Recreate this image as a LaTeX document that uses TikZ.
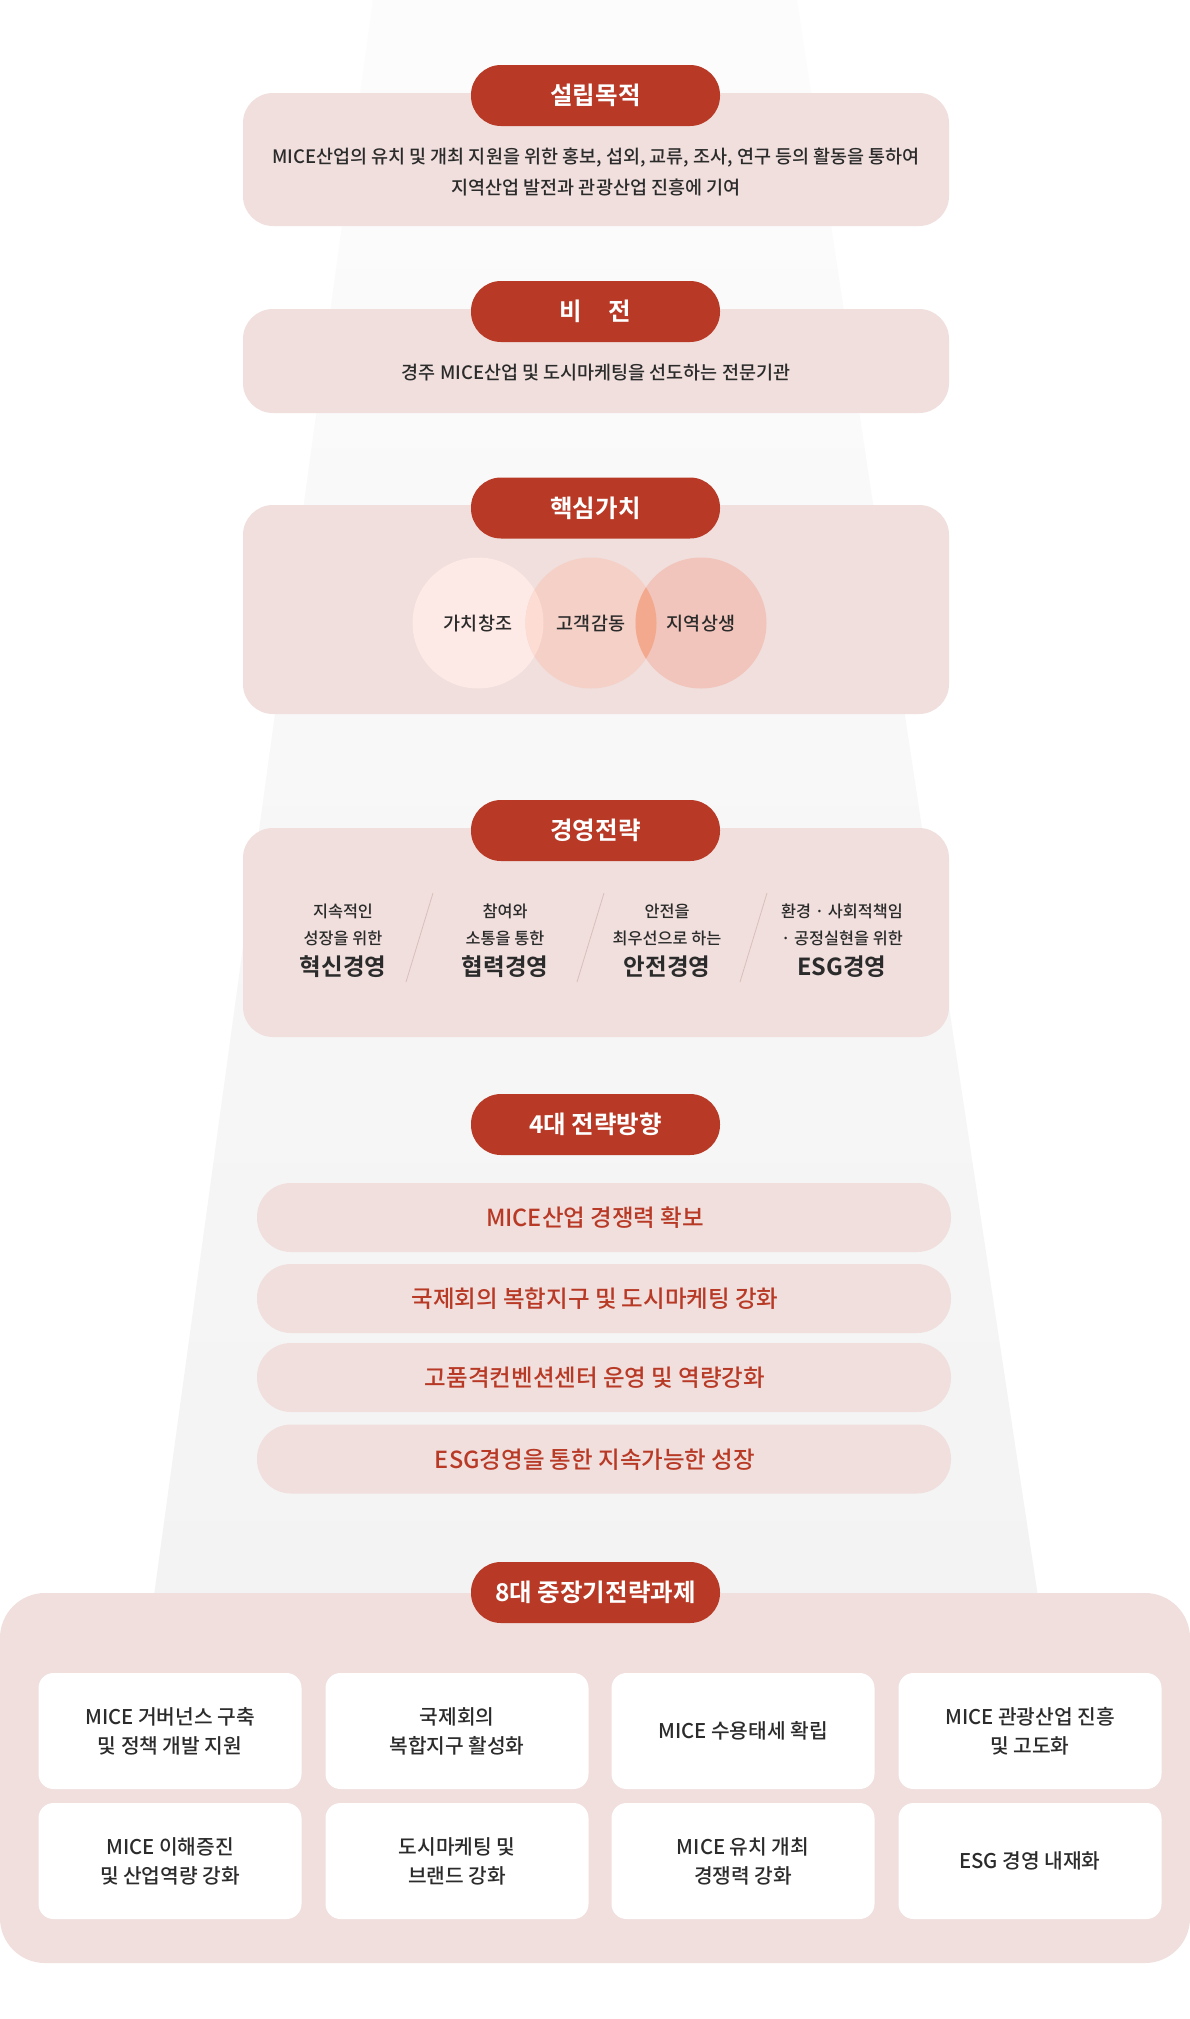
\documentclass[tikz,border=0pt]{standalone}
\usepackage{fontspec}
\setmainfont{Noto Sans CJK KR}[UprightFont={* Medium}, BoldFont={* Bold}]
\definecolor{pillred}{RGB}{184,58,38}
\definecolor{panelpink}{RGB}{240,223,221}
\definecolor{darktext}{RGB}{43,43,43}
\definecolor{cone}{RGB}{253,233,229}
\definecolor{ctwo}{RGB}{245,208,199}
\definecolor{cthree}{RGB}{241,197,187}
\definecolor{conetwo}{RGB}{252,220,211}
\definecolor{ctwothree}{RGB}{243,169,142}
\definecolor{sepline}{RGB}{218,190,186}
\begin{document}
\begin{tikzpicture}[x=1pt, y=-1pt,
  pill/.style={fill=pillred, rounded corners=30pt, minimum width=249pt, minimum height=61pt, inner sep=0pt, text=white, font=\fontsize{24.5}{28}\selectfont\bfseries},
  panel/.style={fill=panelpink, rounded corners=30pt, minimum width=706pt, inner sep=0pt},
  bar/.style={fill=panelpink, rounded corners=34pt, minimum width=694pt, minimum height=69pt, inner sep=0pt},
  bartext/.style={text=pillred, inner sep=0pt, font=\fontsize{23.5}{27}\selectfont},
  card/.style={fill=white, rounded corners=15pt, minimum width=263pt, minimum height=116pt, inner sep=0pt, align=center, text=darktext, font=\fontsize{20.3}{29}\selectfont},
  body/.style={align=center, text=darktext, inner sep=0pt, font=\fontsize{18.5}{31}\selectfont},
  small/.style={align=center, text=darktext, inner sep=0pt, font=\fontsize{16.3}{27}\selectfont},
  big/.style={text=darktext, inner sep=0pt, font=\fontsize{23.5}{27}\selectfont\bfseries}]
\useasboundingbox (0,0) rectangle (1190,2019);
\fill[white] (0,0) rectangle (1190,2019);
\shade[top color={rgb,255:red,252;green,252;blue,252}, bottom color={rgb,255:red,243;green,243;blue,243}]
  (373,0) -- (797,0) -- (1040,1610) -- (152,1610) -- cycle;

\node[panel, minimum height=133pt] (purpose) at (596,159.5) {};
\node[pill] (purposetitle) at (595.5,95.5) {설립목적};
\node[body] (purposetext) at (596,172) {MICE산업의 유치 및 개최 지원을 위한 홍보, 섭외, 교류, 조사, 연구 등의 활동을 통하여\\지역산업 발전과 관광산업 진흥에 기여};

\node[panel, minimum height=104pt] (vision) at (596,361) {};
\node[pill] (visiontitle) at (595.5,311.5) {비\hspace{1.1em}전};
\node[body] (visiontext) at (596,373) {경주 MICE산업 및 도시마케팅을 선도하는 전문기관};

\node[panel, minimum height=209pt] (values) at (596,609.5) {};
\node[pill] (valuestitle) at (595.5,508) {핵심가치};
\fill[cone] (478,623) circle (65.5);
\fill[ctwo] (591,623) circle (65.5);
\fill[cthree] (701,623) circle (65.5);
\begin{scope}
  \clip (478,623) circle (65.5);
  \fill[conetwo] (591,623) circle (65.5);
\end{scope}
\begin{scope}
  \clip (591,623) circle (65.5);
  \fill[ctwothree] (701,623) circle (65.5);
\end{scope}
\node[body] (value1) at (478,624) {가치창조};
\node[body] (value2) at (591,624) {고객감동};
\node[body] (value3) at (701,624) {지역상생};

\node[panel, minimum height=209pt] (strategy) at (596,932.5) {};
\node[pill] (strategytitle) at (595.5,830.5) {경영전략};
\draw[sepline, line width=0.8pt] (433,893) -- (406,982);
\draw[sepline, line width=0.8pt] (604,893) -- (577,982);
\draw[sepline, line width=0.8pt] (767,893) -- (740,982);
\node[small] (s1) at (343,924.5) {지속적인\\성장을 위한};
\node[big] (s1b) at (343,967) {혁신경영};
\node[small] (s2) at (505,924.5) {참여와\\소통을 통한};
\node[big] (s2b) at (505,967) {협력경영};
\node[small] (s3) at (667,924.5) {안전을\\최우선으로 하는};
\node[big] (s3b) at (667,967) {안전경영};
\node[small] (s4) at (842,924.5) {환경 · 사회적책임\\· 공정실현을 위한};
\node[big] (s4b) at (842,967) {ESG경영};

\node[pill] (directiontitle) at (595.5,1124.5) {4대 전략방향};
\node[bar] (d1) at (604,1217.5) {};
\node[bar] (d2) at (604,1298.5) {};
\node[bar] (d3) at (604,1377.5) {};
\node[bar] (d4) at (604,1459) {};
\node[bartext] (d1t) at (595,1218) {MICE산업 경쟁력 확보};
\node[bartext] (d2t) at (595,1299) {국제회의 복합지구 및 도시마케팅 강화};
\node[bartext] (d3t) at (595,1378) {고품격컨벤션센터 운영 및 역량강화};
\node[bartext] (d4t) at (595,1459.5) {ESG경영을 통한 지속가능한 성장};

\node[fill=panelpink, rounded corners=45pt, minimum width=1190pt, minimum height=370pt, inner sep=0pt] (tasks) at (595,1778) {};
\node[pill] (taskstitle) at (595.5,1592.5) {8대 중장기전략과제};
\node[card] (c1) at (170,1731) {MICE 거버넌스 구축\\및 정책 개발 지원};
\node[card] (c2) at (457,1731) {국제회의\\복합지구 활성화};
\node[card] (c3) at (743,1731) {MICE 수용태세 확립};
\node[card] (c4) at (1030,1731) {MICE 관광산업 진흥\\및 고도화};
\node[card] (c5) at (170,1861) {MICE 이해증진\\및 산업역량 강화};
\node[card] (c6) at (457,1861) {도시마케팅 및\\브랜드 강화};
\node[card] (c7) at (743,1861) {MICE 유치 개최\\경쟁력 강화};
\node[card] (c8) at (1030,1861) {ESG 경영 내재화};
\end{tikzpicture}
\end{document}
